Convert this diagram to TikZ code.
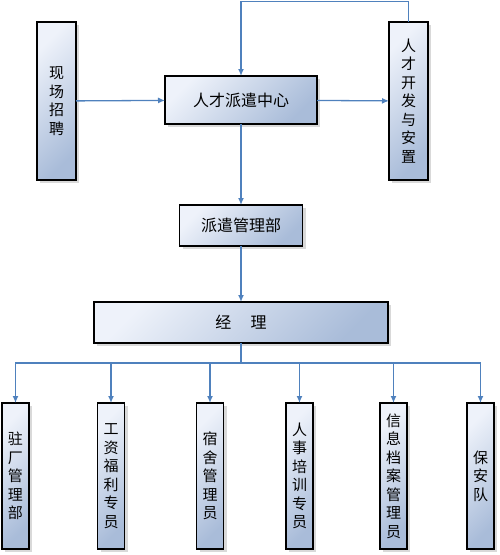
\documentclass[tikz,border=0pt]{standalone}
\usepackage{fontspec}
\newfontfamily\cjk{Noto Sans CJK SC}
\usetikzlibrary{arrows.meta,shadows}
\definecolor{linkblue}{HTML}{4F81BD}
\definecolor{boxlight}{HTML}{EEF2FA}
\definecolor{boxdark}{HTML}{A9BCD9}
\begin{document}
\begin{tikzpicture}[x=1pt, y=-1pt,
    every node/.style={inner sep=0pt, outer sep=0pt, draw=black, line width=1.5pt,
      top color=boxlight, bottom color=boxdark, shading angle=45,
      drop shadow={shadow xshift=3pt, shadow yshift=-3pt, fill=gray, opacity=0.3},
      font=\cjk\fontsize{15}{18.5}\selectfont, align=center},
    hbox/.style={font=\cjk\fontsize{16}{18}\selectfont},
    link/.style={draw=linkblue, line width=1.3pt},
    arrow/.style={link, -{Latex[length=7pt,width=6pt]}}]
  \useasboundingbox (0,0) rectangle (500,555);
  % top row
  \node [minimum width=39pt, minimum height=158pt] (xczp) at (56.5,101) {现\\场\\招\\聘};
  \node [hbox, minimum width=152pt, minimum height=48pt] (center) at (241,100) {人才派遣中心};
  \node [minimum width=39pt, minimum height=158pt] (kfaz) at (408.5,101) {人\\才\\开\\发\\与\\安\\置};
  % middle
  \node [hbox, minimum width=123pt, minimum height=41pt] (pqgl) at (241,225.5) {派遣管理部};
  \node [hbox, minimum width=294pt, minimum height=41pt] (jl) at (241,322.5) {经\hspace{1.2em}理};
  % bottom row
  \node [minimum width=27pt, minimum height=146pt] (zcgl) at (15.5,476) {驻\\厂\\管\\理\\部};
  \node [minimum width=27pt, minimum height=146pt] (gzfl) at (111,476) {工\\资\\福\\利\\专\\员};
  \node [minimum width=27pt, minimum height=146pt] (ssgl) at (210,476) {宿\\舍\\管\\理\\员};
  \node [minimum width=27pt, minimum height=146pt] (rspx) at (299.5,476) {人\\事\\培\\训\\专\\员};
  \node [minimum width=27pt, minimum height=146pt] (xxda) at (393.5,476) {信\\息\\档\\案\\管\\理\\员};
  \node [minimum width=27pt, minimum height=146pt] (bad) at (480.5,476) {保\\安\\队};
  \coordinate (top) at (241,1.5);
  \coordinate (bus) at (241,363);
  % connectors
  \draw [arrow] (xczp) -- (center);
  \draw [arrow] (center) -- (kfaz);
  \draw [arrow] (kfaz.north) |- (top) -- (center.north);
  \draw [arrow] (center) -- (pqgl);
  \draw [arrow] (pqgl) -- (jl);
  \foreach \n in {zcgl,gzfl,ssgl,rspx,xxda,bad}
    \draw [arrow] (jl.south) -- (bus) -| (\n.north);
\end{tikzpicture}
\end{document}
